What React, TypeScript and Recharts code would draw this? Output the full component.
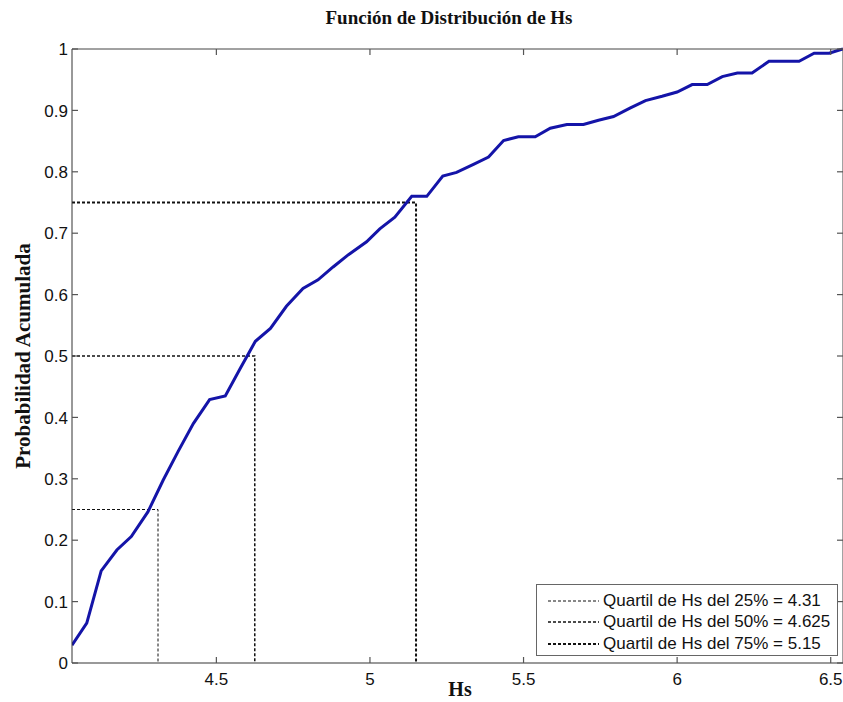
import { LineChart, Line, XAxis, YAxis } from 'recharts'

const hsValues = [
  4.03, 4.078, 4.125, 4.176, 4.223, 4.277, 4.327, 4.376, 4.425, 4.478,
  4.529, 4.578, 4.627, 4.676, 4.728, 4.782, 4.831, 4.88, 4.93, 4.989,
  5.032, 5.081, 5.136, 5.185, 5.237, 5.282, 5.337, 5.386, 5.435, 5.483,
  5.538, 5.587, 5.641, 5.695, 5.744, 5.793, 5.848, 5.897, 5.951, 6.0,
  6.049, 6.098, 6.147, 6.196, 6.244, 6.299, 6.348, 6.397, 6.446, 6.495, 6.54
]

const probValues = [
  0.029, 0.065, 0.15, 0.184, 0.206, 0.246, 0.298, 0.345, 0.39, 0.429,
  0.435, 0.48, 0.524, 0.545, 0.581, 0.61, 0.624, 0.645, 0.665, 0.686,
  0.707, 0.726, 0.76, 0.76, 0.793, 0.799, 0.812, 0.824, 0.851, 0.857,
  0.857, 0.871, 0.877, 0.877, 0.884, 0.89, 0.904, 0.916, 0.923, 0.93,
  0.942, 0.942, 0.955, 0.961, 0.961, 0.98, 0.98, 0.98, 0.993, 0.993, 1.0
]

const quartileLevels = [0.25, 0.5, 0.75]
const quartileValues = [4.31, 4.625, 5.15]
const quartileLabels = [
  'Quartil de Hs del 25% = 4.31',
  'Quartil de Hs del 50% = 4.625',
  'Quartil de Hs del 75% = 5.15'
]
const quartileWidths = [1, 1.5, 2]

const xTicks = [4.5, 5, 5.5, 6, 6.5]
const yTicks = [0, 0.1, 0.2, 0.3, 0.4, 0.5, 0.6, 0.7, 0.8, 0.9, 1]

const X_MIN = 4.03
const X_MAX = 6.54

const cdfData = hsValues.map((x, i) => ({ x, y: probValues[i] }))

const quartileData = quartileValues.map((q, i) => [
  { x: X_MIN, y: quartileLevels[i] },
  { x: q, y: quartileLevels[i] },
  { x: q, y: 0 }
])

const tickFont = { fontFamily: '"Liberation Sans", Arial, sans-serif', fontSize: 17, fill: '#111' }
const serifBold = { fontFamily: '"Liberation Serif", "Times New Roman", serif', fontWeight: 'bold', fontSize: 20, color: '#111' }

const BottomTick = (props: any) => {
  const { x, y, payload } = props
  return (
    <g>
      <line x1={x} y1={y} x2={x} y2={y - 6} stroke="#555" strokeWidth={1.2} />
      <text x={x} y={y + 22} textAnchor="middle" {...tickFont}>{payload.value}</text>
    </g>
  )
}

const TopTick = (props: any) => {
  const { x, y } = props
  return <line x1={x} y1={y} x2={x} y2={y + 6} stroke="#555" strokeWidth={1.2} />
}

const LeftTick = (props: any) => {
  const { x, y, payload } = props
  return (
    <g>
      <line x1={x} y1={y} x2={x + 6} y2={y} stroke="#555" strokeWidth={1.2} />
      <text x={x - 4} y={y} dy="0.36em" textAnchor="end" {...tickFont}>{payload.value}</text>
    </g>
  )
}

const RightTick = (props: any) => {
  const { x, y } = props
  return <line x1={x} y1={y} x2={x - 6} y2={y} stroke="#555" strokeWidth={1.2} />
}

const QuartileLegend = () => (
  <div
    style={{
      position: 'absolute',
      left: 536,
      top: 584,
      width: 302,
      height: 72,
      background: '#fff',
      border: '1px solid #666',
      boxSizing: 'border-box',
      paddingTop: 5
    }}
  >
    {quartileLabels.map((label, i) => (
      <div key={label} style={{ display: 'flex', alignItems: 'center', height: 21.5 }}>
        <svg width={56} height={10} style={{ marginLeft: 10 }}>
          <line x1={1} y1={5} x2={52} y2={5} stroke="#111" strokeWidth={quartileWidths[i]} strokeDasharray="3 2" />
        </svg>
        <span style={{ fontFamily: tickFont.fontFamily, fontSize: 17, color: '#111', whiteSpace: 'nowrap' }}>{label}</span>
      </div>
    ))}
  </div>
)

export default function App() {
  return (
    <div style={{ position: 'absolute', left: 0, top: 0, width: 843, height: 702, overflow: 'hidden', background: '#fff' }}>
      <div style={{ position: 'absolute', left: 449, top: 7, transform: 'translateX(-50%)', whiteSpace: 'nowrap', ...serifBold, fontSize: 19 }}>
        Función de Distribución de Hs
      </div>
      <div style={{ position: 'absolute', left: 460, top: 678, transform: 'translateX(-50%)', whiteSpace: 'nowrap', ...serifBold }}>
        Hs
      </div>
      <div
        style={{
          position: 'absolute',
          left: 23,
          top: 356,
          transform: 'translate(-50%, -50%) rotate(-90deg)',
          whiteSpace: 'nowrap',
          ...serifBold,
          fontSize: 21
        }}
      >
        Probabilidad Acumulada
      </div>
      <LineChart width={850} height={702} data={cdfData} margin={{ top: 48, right: 6, bottom: 9, left: 32 }}>
        <XAxis
          dataKey="x"
          type="number"
          domain={[X_MIN, X_MAX]}
          ticks={xTicks}
          allowDataOverflow
          height={30}
          tickSize={0}
          tickMargin={0}
          tickLine={false}
          axisLine={{ stroke: '#777', strokeWidth: 1.5 }}
          tick={<BottomTick />}
        />
        <XAxis
          xAxisId="top"
          orientation="top"
          dataKey="x"
          type="number"
          domain={[X_MIN, X_MAX]}
          ticks={xTicks}
          allowDataOverflow
          height={1}
          tickSize={0}
          tickMargin={0}
          tickLine={false}
          axisLine={{ stroke: '#444' }}
          tick={<TopTick />}
        />
        <YAxis
          type="number"
          domain={[0, 1]}
          ticks={yTicks}
          width={40}
          tickSize={0}
          tickMargin={0}
          tickLine={false}
          axisLine={{ stroke: '#333' }}
          tick={<LeftTick />}
        />
        <YAxis
          yAxisId="right"
          orientation="right"
          type="number"
          domain={[0, 1]}
          ticks={yTicks}
          width={1}
          tickSize={0}
          tickMargin={0}
          tickLine={false}
          axisLine={{ stroke: '#444' }}
          tick={<RightTick />}
        />
        {/* invisible copy so the box axes (top / right) get drawn */}
        <Line
          xAxisId="top"
          yAxisId="right"
          dataKey="y"
          stroke="none"
          dot={false}
          activeDot={false}
          isAnimationActive={false}
        />
        {quartileData.map((seg, i) => (
          <Line
            key={quartileLabels[i]}
            data={seg}
            dataKey="y"
            stroke="#111"
            strokeWidth={quartileWidths[i]}
            strokeDasharray="3 2"
            dot={false}
            isAnimationActive={false}
          />
        ))}
        <Line
          dataKey="y"
          stroke="#1414a8"
          strokeWidth={3}
          dot={false}
          isAnimationActive={false}
        />
      </LineChart>
      <QuartileLegend />
    </div>
  )
}
